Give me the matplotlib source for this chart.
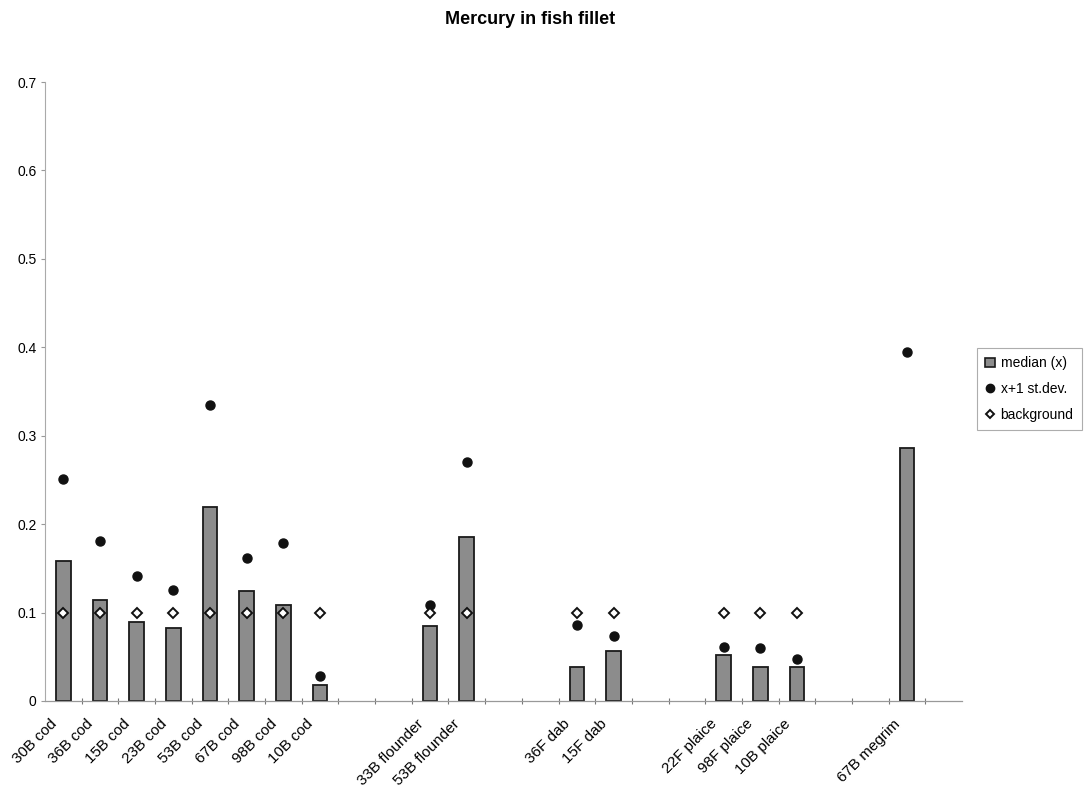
import numpy as np
import matplotlib
matplotlib.use("Agg")
import matplotlib.pyplot as plt
import matplotlib.transforms as mtransforms
from matplotlib.lines import Line2D
from matplotlib.patches import Patch

plt.rcParams['font.family'] = ['Liberation Sans', 'DejaVu Sans']

# ---- data ----
categories = ["30B cod", "36B cod", "15B cod", "23B cod", "53B cod", "67B cod", "98B cod", "10B cod",
              "", "",
              "33B flounder", "53B flounder",
              "", "",
              "36F dab", "15F dab",
              "", "",
              "22F plaice", "98F plaice", "10B plaice",
              "", "",
              "67B megrim",
              ""]
median = [0.158, 0.114, 0.089, 0.083, 0.219, 0.124, 0.108, 0.018,
          None, None,
          0.085, 0.186,
          None, None,
          0.039, 0.057,
          None, None,
          0.052, 0.039, 0.039,
          None, None,
          0.286,
          None]
plus_sd = [0.251, 0.181, 0.141, 0.125, 0.335, 0.162, 0.179, 0.028,
           None, None,
           0.108, 0.270,
           None, None,
           0.086, 0.074,
           None, None,
           0.061, 0.060, 0.047,
           None, None,
           0.395,
           None]
background = [0.1, 0.1, 0.1, 0.1, 0.1, 0.1, 0.1, 0.1,
              None, None,
              0.1, 0.1,
              None, None,
              0.1, 0.1,
              None, None,
              0.1, 0.1, 0.1,
              None, None,
              None,
              None]
y_ticks = [0, 0.1, 0.2, 0.3, 0.4, 0.5, 0.6, 0.7]
y_ticklabels = ["0", "0.1", "0.2", "0.3", "0.4", "0.5", "0.6", "0.7"]

def arr(v):
    return np.array([np.nan if a is None else a for a in v], dtype=float)

x = np.arange(len(categories))
med = arr(median)
sd = arr(plus_sd)
bg = arr(background)
has_bar = ~np.isnan(med)

fig = plt.figure(figsize=(10.87, 7.89), dpi=100)
ax = fig.add_axes([45/1087, 1-701/789, (962-45)/1087, (701-82)/789])

ax.bar(x[has_bar], med[has_bar], width=0.4, color='#8c8c8c', edgecolor='#1a1a1a',
       linewidth=1.3, zorder=2)
ax.plot(x, sd, linestyle='none', marker='o', markersize=6.5, color='#111111', zorder=3)
ax.plot(x, bg, linestyle='none', marker='D', markersize=4.8, markerfacecolor='white',
        markeredgecolor='#111111', markeredgewidth=1.4, zorder=4)

ax.set_xlim(-0.5, len(categories) - 0.5)
ax.set_ylim(0, 0.7)
ax.set_yticks(y_ticks)
ax.set_yticklabels(y_ticklabels, fontsize=10)
ax.set_xticks(x)
ax.set_xticklabels(categories, rotation=45, ha='right', rotation_mode='anchor', fontsize=11)
ax.set_xticks(x[:-1] + 0.5, minor=True)
ax.tick_params(axis='x', which='major', length=0, pad=10)
ax.tick_params(axis='x', which='minor', length=5, direction='inout', color='#777777', width=0.8)
ax.tick_params(axis='y', length=3, color='#999999', width=0.8, pad=3)

offset = mtransforms.ScaledTranslation(-14/100, -2/100, fig.dpi_scale_trans)
for lbl in ax.get_xticklabels():
    lbl.set_transform(lbl.get_transform() + offset)

for s in ['top', 'right']:
    ax.spines[s].set_visible(False)
ax.spines['left'].set_color('#aaaaaa')
ax.spines['left'].set_linewidth(0.8)
ax.spines['bottom'].set_color('#999999')
ax.spines['bottom'].set_linewidth(0.9)

fig.text(530/1087, 1-19/789, "Mercury in fish fillet", ha='center', va='center',
         fontsize=13, fontweight='bold')

handles = [Patch(facecolor='#8c8c8c', edgecolor='#1a1a1a', linewidth=1.2),
           Line2D([], [], linestyle='none', marker='o', markersize=6, color='#111111'),
           Line2D([], [], linestyle='none', marker='D', markersize=4.5, markerfacecolor='white',
                  markeredgecolor='#111111', markeredgewidth=1.4)]
leg = fig.legend(handles, ["median (x)", "x+1 st.dev.", "background"],
                 loc='upper left', bbox_to_anchor=(977/1087, 1-348/789),
                 fontsize=10, frameon=True, fancybox=False, handlelength=0.7,
                 handletextpad=0.4, borderpad=0.6, labelspacing=0.85, borderaxespad=0)
leg.get_frame().set_edgecolor('#999999')
leg.get_frame().set_linewidth(0.8)

fig.savefig("out.png", dpi=100)
